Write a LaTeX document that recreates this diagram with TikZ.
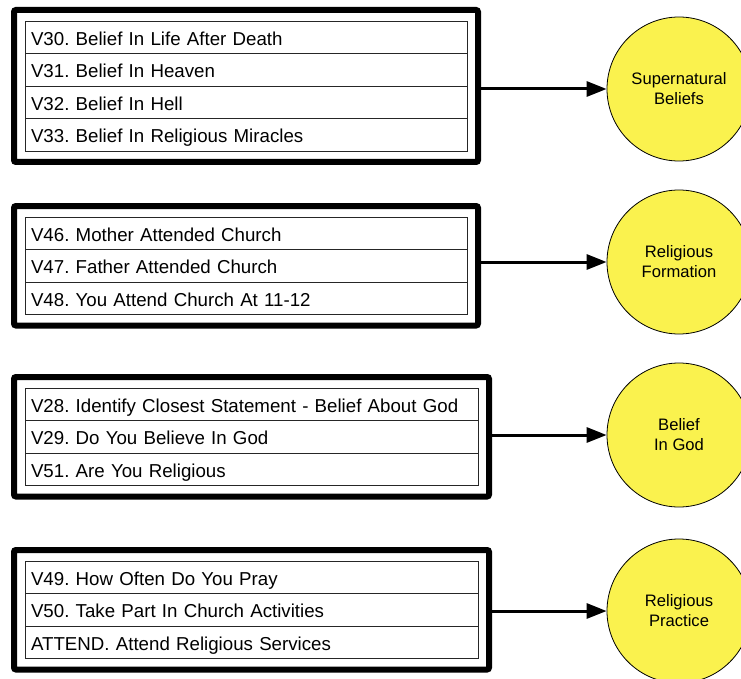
\documentclass[tikz,border=0pt]{standalone}
\usepackage{fontspec}
\setmainfont{Liberation Sans}
\frenchspacing
\usetikzlibrary{positioning,fit,arrows.meta}
\definecolor{factoryellow}{RGB}{250,242,78}

\begin{document}
\begin{tikzpicture}[x=1pt, y=-1pt,
        item/.style={draw=black!85, line width=0.8pt, outer sep=0pt, minimum height=32.5pt,
            text width=#1, text height=16pt, text depth=0pt, inner xsep=6pt, align=left,
            anchor=north west, font=\fontsize{18.7}{22}\selectfont},
        group/.style={draw, line width=6pt, rounded corners=2pt, inner sep=11pt},
        factor/.style={circle, draw, line width=0.8pt, fill=factoryellow, minimum size=144pt,
            inner sep=0pt, align=center, font=\fontsize{16.6}{20}\selectfont},
        link/.style={-{Triangle[length=20pt,width=15pt]}, line width=3pt}]
    \useasboundingbox (0,0) rectangle (741,679);
    % supernatural beliefs
    \node [item=430pt] (a1) at (25,21) {V30. Belief In Life After Death};
    \node [item=430pt, below=0pt of a1] (a2) {V31. Belief In Heaven};
    \node [item=430pt, below=0pt of a2] (a3) {V32. Belief In Hell};
    \node [item=430pt, below=0pt of a3] (a4) {V33. Belief In Religious Miracles};
    \node [group, fit=(a1)(a4)] (ga) {};
    \node [factor] (ca) at (679,89) {Supernatural\\Beliefs};
    \draw [link] (ga.east |- ca) -- (ca);
    % religious formation
    \node [item=430pt] (b1) at (25,217) {V46. Mother Attended Church};
    \node [item=430pt, below=0pt of b1] (b2) {V47. Father Attended Church};
    \node [item=430pt, below=0pt of b2] (b3) {V48. You Attend Church At 11-12};
    \node [group, fit=(b1)(b3)] (gb) {};
    \node [factor] (cb) at (679,262) {Religious\\Formation};
    \draw [link] (gb.east |- cb) -- (cb);
    % belief in god
    \node [item=441pt] (c1) at (25,388) {V28. Identify Closest Statement - Belief About God};
    \node [item=441pt, below=0pt of c1] (c2) {V29. Do You Believe In God};
    \node [item=441pt, below=0pt of c2] (c3) {V51. Are You Religious};
    \node [group, fit=(c1)(c3)] (gc) {};
    \node [factor] (cc) at (679,435) {Belief\\In God};
    \draw [link] (gc.east |- cc) -- (cc);
    % religious practice
    \node [item=441pt] (d1) at (25,561) {V49. How Often Do You Pray};
    \node [item=441pt, below=0pt of d1] (d2) {V50. Take Part In Church Activities};
    \node [item=441pt, below=0pt of d2] (d3) {ATTEND. Attend Religious Services};
    \node [group, fit=(d1)(d3)] (gd) {};
    \node [factor] (cd) at (679,611) {Religious\\Practice};
    \draw [link] (gd.east |- cd) -- (cd);
\end{tikzpicture}
\end{document}
